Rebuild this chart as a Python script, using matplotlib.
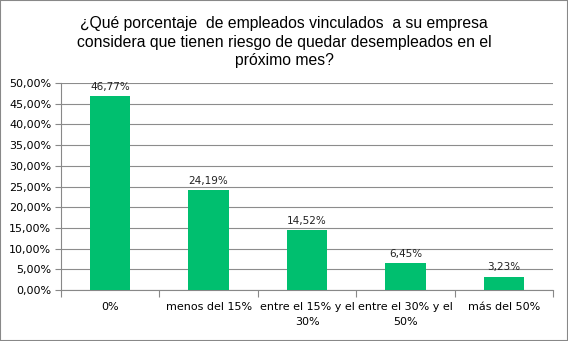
import matplotlib
matplotlib.use("Agg")
import matplotlib.pyplot as plt
from matplotlib.patches import Rectangle

categories = ["0%", "menos del 15%", "entre el 15% y el\n30%", "entre el 30% y el\n50%", "más del 50%"]
values = [46.77, 24.19, 14.52, 6.45, 3.23]
yticks = [0, 5, 10, 15, 20, 25, 30, 35, 40, 45, 50]
title = "¿Qué porcentaje  de empleados vinculados  a su empresa\nconsidera que tienen riesgo de quedar desempleados en el\npróximo mes?"

green = "#00bf6f"

fig = plt.figure(figsize=(5.68, 3.41), dpi=100)
fig.patch.set_facecolor("white")
fig.patches.append(Rectangle((0, 0), 1, 1, transform=fig.transFigure,
                             fill=False, edgecolor="#888888", linewidth=1.5))

ax = fig.add_axes([61 / 568, 1 - 290 / 341, 492 / 568, 207 / 341])
x = list(range(len(categories)))
ax.bar(x, values, width=0.41, color=green, zorder=3)
for xi, v in zip(x, values):
    ax.text(xi, v + 1.0, f"{v:.2f}%".replace(".", ","), ha="center", va="bottom",
            fontsize=7.5, color="#222222")

ax.set_xlim(-0.5, len(categories) - 0.5)
ax.set_ylim(0, 50)
ax.set_yticks(yticks)
ax.set_yticklabels([f"{t:.2f}%".replace(".", ",") for t in yticks], fontsize=8)
ax.yaxis.grid(True, color="#8c8c8c", linewidth=0.8, zorder=0)
ax.tick_params(axis="y", length=4, color="#888888", pad=3)

ax.set_xticks([i - 0.5 for i in range(len(categories) + 1)])
ax.set_xticklabels([])
ax.set_xticks(x, minor=True)
ax.set_xticklabels(categories, minor=True, fontsize=8, linespacing=1.6)
ax.tick_params(axis="x", which="major", length=5, color="#888888")
ax.tick_params(axis="x", which="minor", length=0, pad=9)

for s in ["top", "right"]:
    ax.spines[s].set_visible(False)
for s in ["left", "bottom"]:
    ax.spines[s].set_color("#888888")

fig.text(0.5, 1 - 42 / 341, title, ha="center", va="center", fontsize=11.3,
         family="Liberation Sans", linespacing=1.3)

fig.savefig("out.png", dpi=100)
